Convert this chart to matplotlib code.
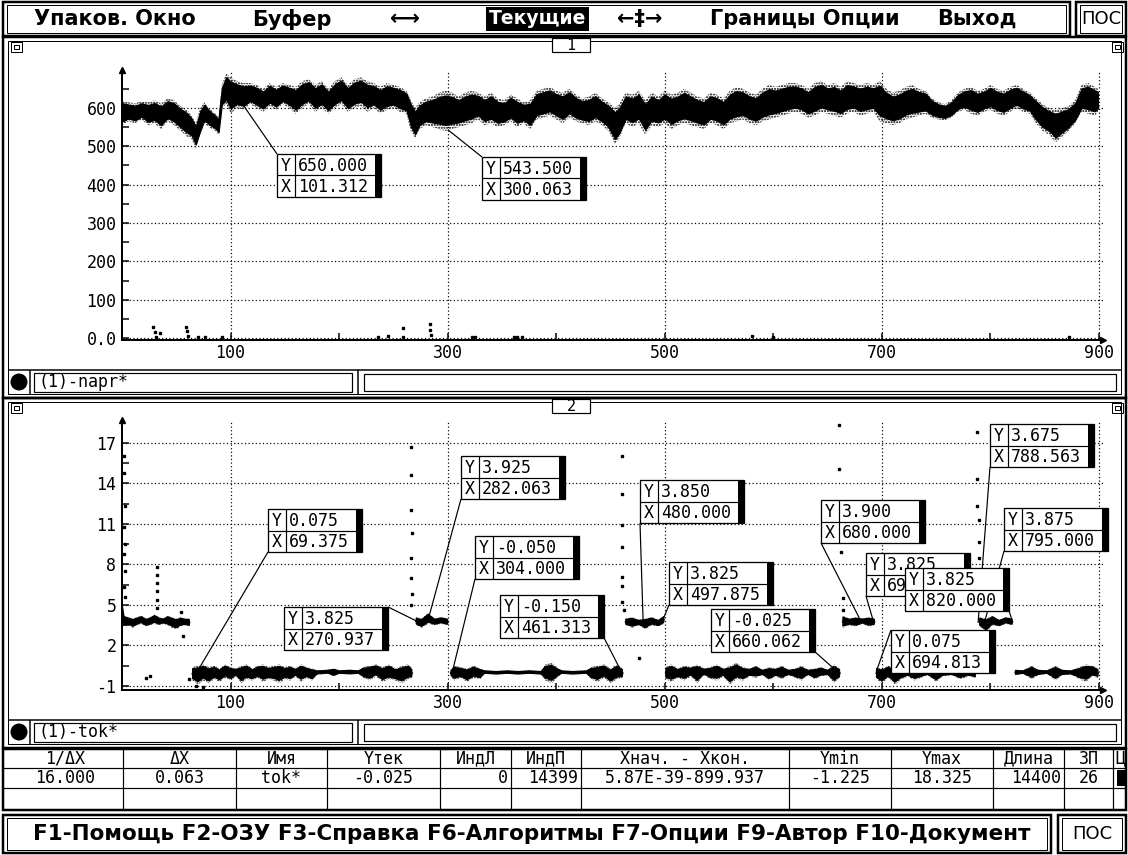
import numpy as np
import matplotlib.pyplot as plt
from matplotlib.patches import Rectangle, Circle

W, H = 1128, 855
MONO = 'DejaVu Sans Mono'
SANS = 'DejaVu Sans'
PX = 0.72  # one screen pixel in points at 100 dpi

# channel 1 "napr" : envelope (low / high edge) of the noisy trace
napr_x = [0, 6, 12, 18, 24, 30, 36, 42, 48, 54, 60, 64, 68, 72, 76, 80, 86, 89,
          92, 96, 100, 106, 112, 118, 124, 130, 136, 142, 148, 154, 160, 166, 172, 178,
          184, 190, 196, 202, 208, 214, 220, 226, 232, 238, 244, 250, 256, 262, 266, 270,
          274, 280, 286, 292, 298, 304, 310, 316, 322, 328, 334, 340, 346, 352, 358, 364,
          370, 376, 382, 388, 394, 400, 406, 412, 418, 424, 430, 436, 442, 448, 454, 458,
          464, 470, 476, 482, 488, 494, 500, 506, 512, 518, 524, 530, 536, 542, 548, 554,
          560, 566, 572, 578, 584, 590, 596, 602, 608, 614, 620, 626, 632, 638, 644, 650,
          656, 662, 668, 674, 680, 686, 692, 698, 704, 710, 716, 722, 728, 734, 740, 746,
          752, 758, 764, 770, 776, 782, 788, 794, 800, 806, 812, 818, 824, 830, 836, 842,
          848, 854, 860, 866, 872, 878, 884, 890, 896, 899]
napr_lo = [555, 565, 560, 570, 555, 560, 545, 565, 555, 540, 525, 520, 495, 530, 560, 550, 540, 530,
           600, 610, 585, 600, 595, 610, 600, 590, 605, 595, 610, 600, 585, 600, 610, 590,
           600, 585, 600, 610, 590, 600, 605, 590, 600, 585, 595, 600, 590, 585, 540, 520,
           545, 555, 550, 545, 540, 545, 550, 555, 560, 570, 555, 560, 550, 555, 565, 550,
           560, 545, 570, 575, 580, 570, 560, 575, 565, 560, 555, 565, 555, 540, 505, 520,
           560, 550, 560, 530, 555, 550, 560, 545, 555, 560, 555, 550, 545, 560, 555, 545,
           560, 565, 570, 560, 555, 565, 570, 575, 580, 585, 590, 585, 575, 580, 590, 585,
           580, 575, 585, 590, 580, 585, 590, 565, 560, 555, 560, 570, 575, 580, 585, 575,
           570, 568, 575, 590, 595, 585, 580, 590, 595, 585, 580, 590, 600, 590, 585, 560,
           540, 530, 510, 525, 540, 560, 590, 585, 580, 590]
napr_hi = [620, 615, 612, 618, 615, 620, 612, 625, 620, 605, 595, 580, 560, 600, 615, 600, 585, 575,
           660, 690, 680, 670, 665, 665, 660, 650, 665, 655, 665, 660, 655, 670, 675, 660,
           670, 650, 670, 680, 660, 675, 680, 670, 665, 655, 665, 660, 655, 645, 620, 600,
           615, 625, 630, 640, 645, 640, 630, 640, 645, 640, 630, 640, 625, 620, 635, 625,
           615, 620, 645, 650, 655, 645, 640, 650, 635, 625, 630, 640, 625, 615, 600, 610,
           640, 635, 645, 620, 640, 630, 645, 635, 640, 650, 640, 630, 625, 640, 635, 625,
           645, 655, 650, 640, 635, 650, 660, 655, 660, 665, 665, 660, 650, 665, 670, 660,
           665, 655, 670, 665, 660, 665, 660, 670, 650, 640, 645, 655, 660, 650, 645, 625,
           615, 610, 620, 640, 650, 655, 645, 650, 660, 650, 645, 655, 660, 650, 640, 625,
           610, 600, 595, 600, 605, 620, 660, 665, 655, 650]
napr_dots_x = [29, 30, 31, 35, 59, 60, 61, 70, 76, 92, 236, 245, 259, 259, 284, 284, 285, 322, 325,
               361, 364, 368, 580, 600, 872]
napr_dots_y = [28, 15, 3, 12, 30, 18, 6, 4, 4, 3, 4, 5, 4, 25, 38, 22, 8, 4, 4, 3, 3, 3, 5, 4, 4]
napr_cursor_x = [101.312, 300.063]
napr_cursor_y = [650.000, 543.500]

# channel 2 "tok" : same kind of envelope, NaN separates the plateaus
nan = np.nan
tok_x = [0, 2, 6, 10, 14, 18, 22, 26, 30, 34, 38, 42, 46, 50, 54, 58, 62, 64,
         65, 70, 75, 80, 85, 90, 95, 100, 105, 110, 115, 120, 125, 130, 135, 140, 145, 150,
         155, 160, 165, 170, 175, 180, 190, 195, 200, 210, 218, 222, 228, 234, 240, 246, 252,
         258, 264, 267, 268,
         271, 276, 282, 288, 294, 300, 302,
         303, 306, 312, 318, 324, 330, 334, 345, 355, 365, 375, 386, 390, 396, 402, 405, 415,
         428, 432, 438, 444, 450, 456, 461, 462,
         464, 470, 476, 482, 488, 494, 499, 500,
         501, 506, 512, 518, 524, 530, 536, 542, 548, 554, 560, 566, 572, 578, 584, 590, 596,
         602, 608, 614, 620, 626, 632, 638, 644, 650, 656, 661, 662,
         664, 670, 676, 682, 688, 693, 694,
         695, 700, 706, 712, 718, 724, 730, 736, 742, 750, 756, 764, 772, 780, 786, 787,
         790, 796, 802, 808, 814, 820, 821,
         823, 830, 838, 844, 852, 860, 866, 874, 882, 888, 894, 899]
tok_lo = [3.5, 3.4, 3.5, 3.3, 3.5, 3.6, 3.4, 3.5, 3.6, 3.5, 3.6, 3.5, 3.3, 3.2, 3.4, 3.5, 3.4, nan,
          -0.6, -0.9, -0.6, -0.8, -0.5, -0.7, -0.4, -0.6, -0.3, -0.8, -0.5, -0.6, -0.4, -0.7, -0.5,
          -0.6, -0.8, -0.5, -0.6, -0.3, -0.7, -0.4, -0.6, -0.15, -0.1, -0.3, -0.1, -0.15, -0.1,
          -0.4, -0.6, -0.3, -0.7, -0.5, -0.6, -0.8, -0.5, -0.4, nan,
          3.5, 3.3, 3.6, 3.5, 3.6, 3.5, nan,
          -0.3, -0.6, -0.4, -0.7, -0.4, -0.5, -0.1, -0.15, -0.1, -0.15, -0.1, -0.15, -0.6, -0.8,
          -0.3, -0.1, -0.15, -0.1, -0.5, -0.7, -0.4, -0.8, -0.5, -0.4, nan,
          3.5, 3.3, 3.5, 3.2, 3.5, 3.4, 3.6, nan,
          -0.5, -0.7, -0.4, -0.6, -0.3, -0.8, -0.2, -0.5, -0.6, -0.3, -0.9, -0.5, -0.6, -0.3, -0.4,
          -0.2, -0.6, -0.3, -0.5, -0.2, -0.4, -0.6, -0.2, -0.5, -0.3, -0.2, -0.8, -0.4, nan,
          3.3, 3.5, 3.4, 3.6, 3.4, 3.5, nan,
          -0.5, -0.8, -0.4, -0.9, -0.5, -0.3, -0.6, -0.4, -0.2, -0.7, -0.3, -0.2, -0.5, -0.3, -0.4, nan,
          3.4, 3.0, 3.5, 3.4, 3.6, 3.5, nan,
          -0.2, -0.1, -0.5, -0.2, -0.1, -0.6, -0.2, -0.15, -0.5, -0.7, -0.3, -0.4]
tok_hi = [5.3, 4.2, 4.1, 4.0, 4.1, 4.2, 4.0, 4.1, 4.3, 4.1, 4.0, 4.2, 4.1, 4.0, 4.1, 4.0, 4.0, nan,
          0.4, 0.5, 0.6, 0.4, 0.5, 0.3, 0.6, 0.4, 0.3, 0.5, 0.6, 0.3, 0.5, 0.6, 0.4,
          0.5, 0.6, 0.4, 0.5, 0.3, 0.6, 0.4, 0.3, 0.15, 0.2, 0.3, 0.15, 0.2, 0.15,
          0.4, 0.5, 0.6, 0.4, 0.6, 0.3, 0.5, 0.6, 0.3, nan,
          4.1, 4.0, 4.4, 4.0, 4.1, 4.0, nan,
          0.2, 0.5, 0.4, 0.3, 0.5, 0.3, 0.15, 0.1, 0.15, 0.1, 0.15, 0.1, 0.6, 0.7,
          0.3, 0.15, 0.1, 0.15, 0.4, 0.5, 0.6, 0.3, 0.6, 0.3, nan,
          4.0, 4.1, 3.9, 4.0, 4.1, 3.9, 4.2, nan,
          0.4, 0.6, 0.3, 0.5, 0.4, 0.6, 0.3, 0.4, 0.6, 0.3, 0.5, 0.7, 0.4, 0.3, 0.5,
          0.2, 0.4, 0.3, 0.5, 0.2, 0.3, 0.5, 0.2, 0.3, 0.4, 0.2, 0.6, 0.3, nan,
          4.2, 4.0, 4.1, 4.0, 4.1, 4.0, nan,
          0.4, 0.3, 0.5, 0.3, 0.4, 0.3, 0.5, 0.3, 0.2, 0.4, 0.3, 0.2, 0.4, 0.3, 0.2, nan,
          4.1, 4.0, 4.2, 3.9, 4.1, 4.0, nan,
          0.2, 0.15, 0.5, 0.2, 0.15, 0.5, 0.2, 0.15, 0.4, 0.6, 0.5, 0.3]
tok_dots_x = [2, 2, 3, 2, 3, 2, 3, 2, 3, 32, 32, 32, 32, 32, 32, 22, 26, 54, 56, 62, 68, 75,
              266, 266, 266, 267, 266, 266, 267, 266, 461, 461, 461, 461, 461, 461, 461, 462,
              476, 660, 660, 662, 664, 664, 788, 788, 788, 789, 789, 789]
tok_dots_y = [16.0, 14.8, 12.3, 10.8, 9.5, 8.8, 7.5, 6.3, 5.6, 7.8, 7.2, 6.6, 6.0, 5.4, 4.8,
              -0.4, -0.3, 4.5, 2.7, -0.5, -1.0, -1.1,
              16.7, 14.6, 12.0, 10.3, 8.5, 7.0, 5.8, 5.0, 16.0, 13.2, 10.9, 9.3, 7.1, 6.4, 5.2, 4.6,
              1.1, 18.3, 15.1, 8.9, 5.5, 4.6, 17.8, 14.3, 12.3, 11.3, 9.7, 8.5]
tok_cursor_x = [69.375, 270.937, 282.063, 304.000, 461.313, 480.000, 497.875, 660.062,
                680.000, 692.000, 694.813, 788.563, 795.000, 820.000]
tok_cursor_y = [0.075, 3.825, 3.925, -0.050, -0.150, 3.850, 3.825, -0.025,
                3.900, 3.825, 0.075, 3.675, 3.875, 3.825]

# axis ticks
x_major = [100, 300, 500, 700, 900]
x_minor = [200, 400, 600, 800]
napr_yticks = [0, 100, 200, 300, 400, 500, 600]
napr_ylabels = ['0.0', '100', '200', '300', '400', '500', '600']
tok_yticks = [-1, 2, 5, 8, 11, 14, 17]
tok_ylabels = ['-1', '2', '5', '8', '11', '14', '17']

# texts of the screen
menu_items = ['Упаков. Окно', 'Буфер', '⟷', 'Текущие', '←‡→', 'Границы Опции', 'Выход']
fkeys = 'F1-Помощь F2-ОЗУ F3-Справка F6-Алгоритмы F7-Опции F9-Автор F10-Документ'
table_head = ['1/ΔX', 'ΔX', 'Имя', 'Yтек', 'ИндЛ', 'ИндП', 'Xнач. - Xкон.', 'Ymin', 'Ymax',
              'Длина', 'ЗП', 'Ц']
table_vals = ['16.000', '0.063', 'tok*', '-0.025', '0', '14399', '5.87E-39-899.937', '-1.225',
              '18.325', '14400', '26', '']

# ---------------------------------------------------------------- layout (screen pixels)
menu_x = [34, 252, 390, 489, 617, 710, 937]
table_cols = [8, 123, 236, 327, 440, 511, 581, 789, 891, 993, 1064, 1113, 1126]
table_align = ['c', 'c', 'c', 'c', 'r', 'r', 'c', 'c', 'c', 'r', 'c', 'l']
table_rows = [749, 768, 788, 810]
napr_boxes = [(277, 154, 'tl'), (482, 157, 'tl')]
tok_boxes = [(268, 509, 'bl'), (284, 607, 'tr'), (461, 456, 'bl'), (475, 536, 'bl'),
             (500, 595, 'br'), (640, 480, 'bl'), (669, 562, 'bl'), (711, 609, 'br'),
             (821, 500, 'bl'), (866, 553, 'bl'), (891, 630, 'tl'), (990, 424, 'bl'),
             (1004, 508, 'bl'), (905, 568, 'br')]

fig = plt.figure(figsize=(W / 100, H / 100), dpi=100)
fig.patch.set_facecolor('white')


def px_axes(l, t, r, b):
    return fig.add_axes([l / W, 1 - b / H, (r - l) / W, (b - t) / H])


def style_plot(ax, ylim, yt, ytl, yminor):
    ax.set_xlim(0, 904)
    ax.set_ylim(*ylim)
    ax.patch.set_alpha(0)
    for s in ('top', 'right'):
        ax.spines[s].set_visible(False)
    for s in ('left', 'bottom'):
        ax.spines[s].set_linewidth(2 * PX)
    ax.set_xticks(x_major)
    ax.set_xticklabels([str(v) for v in x_major], family=MONO, fontsize=12)
    ax.set_xticks(x_minor, minor=True)
    ax.set_yticks(yt)
    ax.set_yticklabels(ytl, family=MONO, fontsize=12)
    ax.set_yticks(yminor, minor=True)
    ax.tick_params(which='both', direction='in', length=5, width=1.5 * PX, pad=3)
    ax.tick_params(axis='y', pad=4)
    ax.grid(True, which='major', color='k', linestyle=(0, (1, 2)), linewidth=1.2 * PX)
    ax.set_axisbelow(True)
    ax.plot(0, 1, marker='^', ms=5, color='k', transform=ax.transAxes, clip_on=False)
    ax.plot(1, 0, marker='>', ms=5, color='k', transform=ax.transAxes, clip_on=False)


def band(ax, x, lo, hi):
    x = np.asarray(x, float)
    lo = np.asarray(lo, float)
    hi = np.asarray(hi, float)
    span = hi - lo
    ax.fill_between(x, lo, hi, facecolor='none', edgecolor='k', hatch='......', linewidth=0, zorder=2)
    ax.fill_between(x, lo + 0.15 * span, hi - 0.12 * span, color='k', linewidth=0.8, zorder=3)
    ax.plot(x, (lo + hi) / 2, color='k', lw=1.4, zorder=3)


# channel 1
ax1 = px_axes(122, 70, 1103.4, 340)
style_plot(ax1, (-5, 699), napr_yticks, napr_ylabels, [50, 150, 250, 350, 450, 550, 650])
band(ax1, napr_x, napr_lo, napr_hi)
ax1.plot(napr_dots_x, napr_dots_y, 's', ms=1.6, color='k', ls='none', zorder=3)

# channel 2
ax2 = px_axes(122, 420, 1103.4, 690)
style_plot(ax2, (-1.3, 18.7), tok_yticks, tok_ylabels, [0.5, 3.5, 6.5, 9.5, 12.5, 15.5])
band(ax2, tok_x, tok_lo, tok_hi)
ax2.plot([0, 0], [3.6, 5.3], color='k', lw=1.4)
ax2.plot(tok_dots_x, tok_dots_y, 's', ms=1.6, color='k', ls='none', zorder=3)

# screen canvas on top, y grows downwards
cv = fig.add_axes([0, 0, 1, 1], zorder=10)
cv.set_xlim(0, W)
cv.set_ylim(H, 0)
cv.axis('off')
cv.patch.set_alpha(0)


def rect(x0, y0, x1, y1, lw=1.0, fc='none', z=5):
    cv.add_patch(Rectangle((x0, y0), x1 - x0, y1 - y0, facecolor=fc, edgecolor='k',
                           fill=(fc != 'none'), linewidth=lw * PX, zorder=z))


def seg(xs, ys, lw=1.0, z=5):
    cv.plot(xs, ys, color='k', lw=lw * PX, solid_capstyle='butt', zorder=z)


def to_px(ax, x, y):
    dx, dy = ax.transData.transform((x, y))
    return dx, H - dy


def cursor_box(ax, xv, yv, left, top, corner, z):
    ys, xs = f'{yv:.3f}', f'{xv:.3f}'
    n = max(len(ys), len(xs))
    w = 18 + 10.3 * n + 8 + 6
    h = 43
    px, py = to_px(ax, xv, yv)
    cx = left if corner[1] == 'l' else left + w
    cy = top if corner[0] == 't' else top + h
    seg([cx, px], [cy, py], lw=1.2, z=z)
    rect(left, top, left + w, top + h, lw=1.3, fc='white', z=z + 1)
    cv.add_patch(Rectangle((left + w - 6, top), 6, h, facecolor='k', edgecolor='none', zorder=z + 1))
    seg([left + 18, left + 18], [top, top + h], lw=1.2, z=z + 1)
    seg([left, left + w - 6], [top + h / 2, top + h / 2], lw=1.2, z=z + 1)
    for row, (lab, val) in enumerate((('Y', ys), ('X', xs))):
        yc = top + h * (0.27 + 0.5 * row)
        cv.text(left + 9, yc, lab, family=MONO, fontsize=12, ha='center', va='center', zorder=z + 1)
        cv.text(left + 21, yc, val, family=MONO, fontsize=12, ha='left', va='center', zorder=z + 1)


for i, (xv, yv) in enumerate(zip(napr_cursor_x, napr_cursor_y)):
    left, top, corner = napr_boxes[i]
    cursor_box(ax1, xv, yv, left, top, corner, 20 + 2 * i)
for i, (xv, yv) in enumerate(zip(tok_cursor_x, tok_cursor_y)):
    left, top, corner = tok_boxes[i]
    cursor_box(ax2, xv, yv, left, top, corner, 30 + 2 * i)

# menu bar
rect(3, 2, 1070, 36, lw=2.5)
rect(7, 5, 1066, 33, lw=1)
rect(1076, 2, 1126, 36, lw=2.5)
rect(1080, 5, 1122, 33, lw=1)
cv.text(1101, 19, 'ПОС', family=SANS, fontsize=13, ha='center', va='center')
for txt, x in zip(menu_items, menu_x):
    if txt == 'Текущие':
        cv.text(x, 19, txt, family=SANS, fontsize=13.5, fontweight='bold', ha='left', va='center',
                color='white', zorder=6,
                bbox=dict(facecolor='k', edgecolor='none', boxstyle='square,pad=0.15'))
    else:
        cv.text(x, 19, txt, family=SANS, fontsize=15, fontweight='bold', ha='left', va='center',
                color='k', zorder=6)

# two plot windows
for top, bot, title, name in ((37, 398, '1', '(1)-napr*'), (398, 748, '2', '(1)-tok*')):
    rect(3, top, 1126, bot, lw=2.5)
    rect(8, top + 4, 1121, bot - 4, lw=1)
    rect(552, top + 1, 590, top + 15, lw=1.2, fc='white', z=6)
    cv.text(571, top + 8, title, family=MONO, fontsize=11, ha='center', va='center', zorder=7)
    for cx in (11, 1112):
        rect(cx, top + 5, cx + 11, top + 15, lw=1)
        rect(cx + 3, top + 8, cx + 8, top + 12, lw=1)
    sy = bot - 28
    seg([8, 1121], [sy, sy], lw=1.5)
    seg([30, 30], [sy, bot - 4], lw=1.5)
    seg([358, 358], [sy, bot - 4], lw=1.5)
    cv.add_patch(Circle((19, sy + 12), 8.5, facecolor='k', edgecolor='none', zorder=6))
    rect(34, sy + 3, 352, bot - 6, lw=1.2)
    rect(364, sy + 4, 1116, bot - 7, lw=1.2)
    cv.text(38, sy + 12, name, family=MONO, fontsize=12, ha='left', va='center')

# info table
rect(3, table_rows[0], 1126, table_rows[-1], lw=2.5)
for y in table_rows[1:-1]:
    seg([3, 1126], [y, y], lw=1.2)
for x in table_cols[1:-1]:
    seg([x, x], [table_rows[0], table_rows[-1]], lw=1.2)
yh = (table_rows[0] + table_rows[1]) / 2
yv = (table_rows[1] + table_rows[2]) / 2
for i, (hd, val) in enumerate(zip(table_head, table_vals)):
    x0, x1 = table_cols[i], table_cols[i + 1]
    al = table_align[i]
    hx = x0 + 2 if al == 'l' else (x0 + x1) / 2
    cv.text(hx, yh, hd, family=MONO, fontsize=12, ha='left' if al == 'l' else 'center', va='center')
    vx = {'c': (x0 + x1) / 2, 'r': x1 - 3, 'l': x0 + 2}[al]
    cv.text(vx, yv, val, family=MONO, fontsize=12,
            ha={'c': 'center', 'r': 'right', 'l': 'left'}[al], va='center')
cv.add_patch(Rectangle((1117, yv - 8), 9, 16, facecolor='k', edgecolor='none', zorder=6))

# function keys
rect(3, 815, 1051, 853, lw=2.5)
rect(7, 818, 1047, 850, lw=1)
rect(1058, 815, 1126, 853, lw=2.5)
rect(1062, 818, 1122, 850, lw=1)
cv.text(33, 834, fkeys, family=SANS, fontsize=15.5, fontweight='bold', ha='left', va='center')
cv.text(1092, 834, 'ПОС', family=SANS, fontsize=13, ha='center', va='center')

fig.savefig('out.png', dpi=100)
